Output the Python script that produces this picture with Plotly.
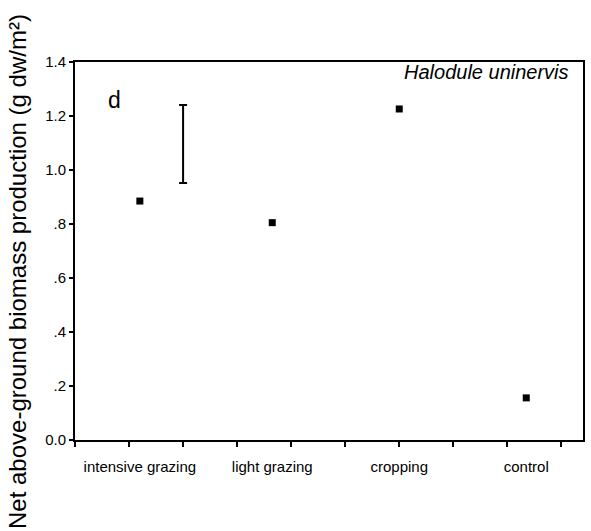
import plotly.graph_objects as go

# ---- data ----
categories = ["intensive grazing", "light grazing", "cropping", "control"]
category_x = [1.2, 3.65, 6.0, 8.35]
production = [0.885, 0.805, 1.226, 0.156]

lsd_x = [2.0]
lsd_low = [0.952]
lsd_high = [1.241]

y_tickvals = [0.0, 0.2, 0.4, 0.6, 0.8, 1.0, 1.2, 1.4]
y_ticktext = ["0.0", ".2", ".4", ".6", ".8", "1.0", "1.2", "1.4"]

FONT = "Liberation Sans, Arial, sans-serif"

fig = go.Figure()

fig.add_trace(go.Scatter(
    x=category_x, y=production, mode="markers",
    marker=dict(symbol="square", size=7, color="black"),
    showlegend=False, hoverinfo="skip",
))

lsd_mid = [(a + b) / 2 for a, b in zip(lsd_low, lsd_high)]
lsd_half = [(b - a) / 2 for a, b in zip(lsd_low, lsd_high)]
fig.add_trace(go.Scatter(
    x=lsd_x, y=lsd_mid, mode="markers",
    marker=dict(size=1, color="rgba(0,0,0,0)"),
    error_y=dict(type="data", array=lsd_half, visible=True,
                 width=4, thickness=2, color="black"),
    showlegend=False, hoverinfo="skip",
))

fig.update_layout(
    width=591, height=531,
    margin=dict(l=75, r=6, t=62, b=91),
    paper_bgcolor="white", plot_bgcolor="white",
    font=dict(family=FONT, color="black"),
    showlegend=False,
)

fig.update_xaxes(
    range=[0, 9.4],
    tickmode="array", tickvals=category_x, ticktext=categories,
    ticks="", ticklabelstandoff=12,
    tickfont=dict(size=15, family=FONT, color="black"),
    showgrid=False, zeroline=False,
    showline=True, linecolor="black", linewidth=2, mirror=True,
    minor=dict(tickmode="linear", tick0=0, dtick=1, ticks="outside",
               ticklen=5, tickwidth=2, tickcolor="black", showgrid=False),
)

fig.update_yaxes(
    range=[0, 1.4],
    tickmode="array", tickvals=y_tickvals, ticktext=y_ticktext,
    ticks="outside", ticklen=4, tickwidth=2, tickcolor="black",
    tickfont=dict(size=15, family=FONT, color="black"),
    showgrid=False, zeroline=False,
    showline=True, linecolor="black", linewidth=2, mirror=True,
)

fig.add_annotation(
    text="Net above-ground biomass production (g dw/m²)",
    xref="paper", yref="paper", x=0.0, y=0.5,
    xanchor="center", yanchor="middle", textangle=-90,
    showarrow=False, font=dict(size=24, family=FONT, color="black"),
    xshift=-58, yshift=-21,
)

fig.add_annotation(
    text="d", xref="paper", yref="paper", x=0.0, y=1.0,
    xanchor="center", yanchor="middle", showarrow=False,
    font=dict(size=23, family=FONT, color="black"),
    xshift=39, yshift=-38,
)

fig.add_annotation(
    text="<i>Halodule uninervis</i>", xref="paper", yref="paper",
    x=1.0, y=1.0, xanchor="right", yanchor="middle", showarrow=False,
    font=dict(size=20, family=FONT, color="black"),
    xshift=-12, yshift=-10,
)

fig.write_html("out.html")
